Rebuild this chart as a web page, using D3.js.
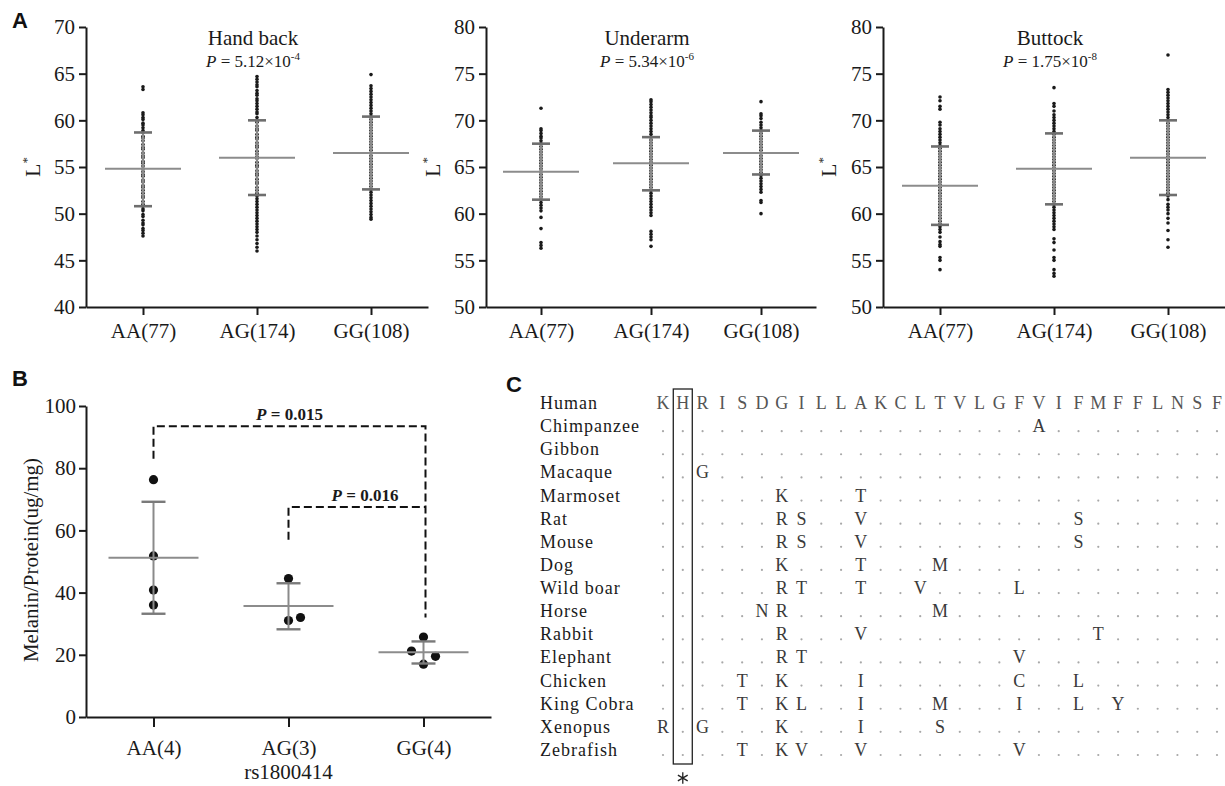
<!DOCTYPE html>
<html>
<head>
<meta charset="utf-8">
<script src="https://cdn.jsdelivr.net/npm/d3@7"></script>
<style>
  body { margin: 0; background: #fff; }
  svg { display: block; }
</style>
</head>
<body>
<div id="chart"></div>
<script>
// ---- panel A data ----
var groupsA = ["AA(77)", "AG(174)", "GG(108)"];
var sites = ["Hand back", "Underarm", "Buttock"];
var pMantissa = ["5.12", "5.34", "1.75"];
var pExponent = ["-4", "-6", "-8"];
var yDomainA = [[40, 70], [50, 80], [50, 80]];
var meanA = [[54.8, 56.0, 56.5], [64.5, 65.4, 66.5], [63.0, 64.8, 66.0]];
var sdHighA = [[58.7, 60.0, 60.4], [67.5, 68.2, 68.9], [67.2, 68.6, 70.0]];
var sdLowA = [[50.8, 52.0, 52.6], [61.5, 62.5, 64.2], [58.8, 61.0, 62.0]];

var handAA = [63.6, 63.3, 60.8, 60.6, 60.3, 60.1, 59.7, 59.5, 59.2, 58.9, 58.7, 58.3, 58.1, 57.8, 57.4, 57.1, 56.9, 56.5, 56.2, 56.0,
  55.6, 55.4, 55.1, 54.8, 54.5, 54.2, 54.0, 53.6, 53.4, 53.0, 52.8, 52.5, 52.2, 51.9, 51.7, 51.3, 51.0, 50.8, 50.5, 50.3,
  49.9, 49.7, 49.3, 49.0, 48.8, 48.4, 48.2, 47.9, 47.6];
var handAG = [64.7, 64.4, 64.1, 63.8, 63.6, 63.2, 62.9, 62.7, 62.3, 62.1, 61.8, 61.5, 61.2, 60.9, 60.7, 60.3, 60.0, 59.8, 59.4, 59.1,
  58.9, 58.5, 58.2, 58.0, 57.6, 57.3, 57.1, 56.7, 56.4, 56.1, 55.9, 55.5, 55.2, 55.0, 54.6, 54.3, 54.1, 53.7, 53.4, 53.2,
  52.8, 52.5, 52.2, 51.9, 51.6, 51.3, 51.0, 50.7, 50.4, 50.1, 49.8, 49.5, 49.2, 48.9, 48.6, 48.3, 48.0, 47.6, 47.2, 46.8, 46.4, 46.0];
var handGG = [64.9, 63.7, 63.4, 63.1, 62.8, 62.5, 62.2, 61.9, 61.6, 61.3, 61.0, 60.7, 60.4, 60.1, 59.8, 59.5, 59.2, 58.9, 58.6,
  58.3, 58.0, 57.7, 57.4, 57.1, 56.8, 56.5, 56.2, 55.9, 55.6, 55.3, 55.0, 54.7, 54.4, 54.1, 53.8, 53.5, 53.2, 52.9, 52.6,
  52.3, 52.0, 51.7, 51.4, 51.1, 50.8, 50.5, 50.2, 49.9, 49.6, 49.4];
var underAA = [71.3, 69.1, 68.9, 68.6, 68.3, 68.1, 67.8, 67.5, 67.2, 66.9, 66.6, 66.3, 66.0, 65.7, 65.4, 65.1, 64.8, 64.5,
  64.2, 63.9, 63.6, 63.3, 63.0, 62.7, 62.4, 62.1, 61.8, 61.5, 61.2, 60.9, 60.6, 60.3, 59.6, 58.4, 56.9, 56.6, 56.3];
var underAG = [72.2, 72.0, 71.7, 71.4, 71.1, 70.8, 70.5, 70.3, 70.0, 69.7, 69.4, 69.1, 68.8, 68.5, 68.2, 67.9, 67.6, 67.3,
  67.0, 66.7, 66.4, 66.1, 65.8, 65.5, 65.2, 64.9, 64.6, 64.3, 64.0, 63.7, 63.4, 63.1, 62.8, 62.5, 62.2, 61.9, 61.6, 61.3,
  61.0, 60.7, 60.4, 60.1, 59.8, 58.1, 57.8, 57.5, 57.2, 56.5];
var underGG = [72.0, 70.7, 70.5, 70.2, 69.8, 69.5, 69.2, 68.9, 68.6, 68.3, 68.0, 67.7, 67.4, 67.1, 66.8, 66.5, 66.2, 65.9,
  65.6, 65.3, 65.0, 64.7, 64.4, 64.1, 63.8, 63.5, 63.2, 62.9, 62.6, 62.3, 61.4, 61.2, 60.0];
var buttAA = [72.5, 72.1, 71.5, 71.2, 69.8, 69.5, 69.1, 68.8, 68.5, 68.2, 67.9, 67.6, 67.3, 67.0, 66.7, 66.4, 66.1, 65.8, 65.5,
  65.2, 64.9, 64.6, 64.3, 64.0, 63.7, 63.4, 63.1, 62.8, 62.5, 62.2, 61.9, 61.6, 61.3, 61.0, 60.7, 60.4, 60.1, 59.8, 59.5,
  59.2, 58.9, 58.6, 58.3, 58.0, 57.5, 57.0, 56.7, 56.5, 55.3, 55.0, 54.0];
var buttAG = [73.5, 71.8, 71.5, 71.0, 70.6, 70.3, 70.0, 69.7, 69.4, 69.1, 68.8, 68.5, 68.2, 67.9, 67.6, 67.3, 67.0, 66.7, 66.4,
  66.1, 65.8, 65.5, 65.2, 64.9, 64.6, 64.3, 64.0, 63.7, 63.4, 63.1, 62.8, 62.5, 62.2, 61.9, 61.6, 61.3, 61.0, 60.7, 60.4,
  60.1, 59.8, 59.5, 59.2, 58.9, 58.6, 58.3, 57.3, 56.9, 56.1, 55.3, 55.0, 54.0, 53.6, 53.3];
var buttGG = [77.0, 73.3, 73.0, 72.7, 72.4, 72.1, 71.8, 71.5, 71.2, 70.9, 70.6, 70.3, 70.0, 69.7, 69.4, 69.1, 68.8, 68.5, 68.2,
  67.9, 67.6, 67.3, 67.0, 66.7, 66.4, 66.1, 65.8, 65.5, 65.2, 64.9, 64.6, 64.3, 64.0, 63.7, 63.4, 63.1, 62.8, 62.5, 62.2,
  61.9, 61.5, 61.0, 60.7, 60.4, 60.0, 59.5, 59.0, 58.2, 57.2, 56.4];
var dotsA = [[handAA, handAG, handGG], [underAA, underAG, underGG], [buttAA, buttAG, buttGG]];

// ---- panel B data ----
var groupsB = ["AA(4)", "AG(3)", "GG(4)"];
var melanin = [[76.3, 51.8, 40.8, 36.0], [44.5, 31.0, 32.0], [25.7, 21.2, 19.5, 17.0]];
var dodgeB = [[0, 0, 0, 0], [0, 0, 1], [0, -1, 1, 0]];
var meanB = [51.2, 35.7, 20.8];
var sdHighB = [69.2, 43.0, 24.3];
var sdLowB = [33.2, 28.2, 17.2];
var bracketFrom = [0, 1];
var bracketTo = [2, 2];
var bracketStart = [83, 57];
var bracketTop = [93.5, 67.5];
var bracketEnd = [32, 67.5];
var bracketLabel = ["0.015", "0.016"];

// ---- panel C data ----
var species = ["Human", "Chimpanzee", "Gibbon", "Macaque", "Marmoset", "Rat", "Mouse", "Dog", "Wild boar",
  "Horse", "Rabbit", "Elephant", "Chicken", "King Cobra", "Xenopus", "Zebrafish"];
var humanSeq = "KHRISDGILLAKCLTVLGFVIFMFFLNSF".split("");
var substitutions = {
  "Chimpanzee": {19: "A"},
  "Gibbon": {},
  "Macaque": {2: "G"},
  "Marmoset": {6: "K", 10: "T"},
  "Rat": {6: "R", 7: "S", 10: "V", 21: "S"},
  "Mouse": {6: "R", 7: "S", 10: "V", 21: "S"},
  "Dog": {6: "K", 10: "T", 14: "M"},
  "Wild boar": {6: "R", 7: "T", 10: "T", 13: "V", 18: "L"},
  "Horse": {5: "N", 6: "R", 14: "M"},
  "Rabbit": {6: "R", 10: "V", 22: "T"},
  "Elephant": {6: "R", 7: "T", 18: "V"},
  "Chicken": {4: "T", 6: "K", 10: "I", 18: "C", 21: "L"},
  "King Cobra": {4: "T", 6: "K", 7: "L", 10: "I", 14: "M", 18: "I", 21: "L", 23: "Y"},
  "Xenopus": {0: "R", 2: "G", 6: "K", 10: "I", 14: "S"},
  "Zebrafish": {4: "T", 6: "K", 7: "V", 10: "V", 18: "V"}
};
var markedSite = 1;

var svg = d3.select("#chart").append("svg").attr("width", 1225).attr("height", 786);
svg.append("rect").attr("width", 1225).attr("height", 786).attr("fill", "#fff");

function serifText(sel, size) {
  return sel.append("text").style("font-family", "'Liberation Serif'").attr("font-size", size).attr("fill", "#1a1a1a");
}
function styleAxis(ax) {
  ax.attr("font-family", null).attr("font-size", null);
  ax.selectAll("path, line").attr("stroke", "#1a1a1a").attr("stroke-width", 2);
  ax.selectAll("text").style("font-family", "'Liberation Serif'").attr("font-size", 21).attr("fill", "#1a1a1a");
}

// panel letters
[["A", 12, 28], ["B", 12, 386], ["C", 506, 392]].forEach(function(p) {
  svg.append("text").style("font-family", "'Liberation Sans'").attr("font-weight", "bold").attr("font-size", 22)
    .attr("fill", "#111").attr("x", p[1]).attr("y", p[2]).text(p[0]);
});

// ---------- panel A ----------
var panelLeft = [86, 486, 883];
var panelRight = [428, 816, 1225];
var labelX = [40, 440, 836];

sites.forEach(function(site, si) {
  var g = svg.append("g");
  var x = d3.scalePoint().domain(groupsA).range([panelLeft[si], panelRight[si]]).padding(0.5);
  var y = d3.scaleLinear().domain(yDomainA[si]).range([307, 27]);

  g.append("g").attr("transform", "translate(0,307)")
    .call(d3.axisBottom(x).tickSize(8).tickSizeOuter(0).tickPadding(8)).call(styleAxis);
  g.append("g").attr("transform", "translate(" + panelLeft[si] + ",0)")
    .call(d3.axisLeft(y).tickValues(d3.range(yDomainA[si][0], yDomainA[si][1] + 1, 5)).tickSize(7).tickSizeOuter(0).tickPadding(4))
    .call(styleAxis);

  // L* label
  var lab = serifText(g, 22).attr("transform", "translate(" + labelX[si] + ",167) rotate(-90)")
    .attr("text-anchor", "middle");
  lab.append("tspan").text("L");
  lab.append("tspan").attr("font-size", 13).attr("dy", -9).text("*");

  // title + p value
  var cx = (x(groupsA[0]) + x(groupsA[2])) / 2 - 4;
  serifText(g, 21).attr("text-anchor", "middle").attr("x", cx).attr("y", 45).text(site);
  var pt = serifText(g, 17).attr("text-anchor", "middle").attr("x", cx).attr("y", 67);
  pt.append("tspan").attr("font-style", "italic").text("P");
  pt.append("tspan").text(" = " + pMantissa[si] + "×10");
  pt.append("tspan").attr("font-size", 11).attr("dy", -7).text(pExponent[si]);

  groupsA.forEach(function(grp, gi) {
    var gx = x(grp);
    g.append("g").selectAll("circle").data(dotsA[si][gi]).enter().append("circle")
      .attr("cx", gx).attr("cy", function(d) { return y(d); }).attr("r", 1.8).attr("fill", "#1a1a1a");
    // SD bar
    g.append("line").attr("x1", gx).attr("x2", gx)
      .attr("y1", y(sdLowA[si][gi])).attr("y2", y(sdHighA[si][gi]))
      .attr("stroke", "#8a8a8a").attr("stroke-width", 2);
    [sdLowA[si][gi], sdHighA[si][gi]].forEach(function(v) {
      g.append("line").attr("x1", gx - 9).attr("x2", gx + 9).attr("y1", y(v)).attr("y2", y(v))
        .attr("stroke", "#6e6e6e").attr("stroke-width", 2.6);
    });
    g.append("line").attr("x1", gx - 38).attr("x2", gx + 38)
      .attr("y1", y(meanA[si][gi])).attr("y2", y(meanA[si][gi]))
      .attr("stroke", "#8c8c8c").attr("stroke-width", 2);
  });
});

// ---------- panel B ----------
(function() {
  var g = svg.append("g");
  var x = d3.scalePoint().domain(groupsB).range([86, 491]).padding(0.5);
  var y = d3.scaleLinear().domain([0, 100]).range([717, 406]);

  g.append("g").attr("transform", "translate(0,717)")
    .call(d3.axisBottom(x).tickSize(10).tickSizeOuter(0).tickPadding(13)).call(styleAxis);
  g.append("g").attr("transform", "translate(86,0)")
    .call(d3.axisLeft(y).tickValues([0, 20, 40, 60, 80, 100]).tickSize(7).tickSizeOuter(0).tickPadding(3))
    .call(styleAxis);

  serifText(g, 21).attr("text-anchor", "middle").attr("x", x(groupsB[1])).attr("y", 779).text("rs1800414");
  serifText(g, 21).attr("text-anchor", "middle").attr("transform", "translate(38,560) rotate(-90)")
    .text("Melanin/Protein(ug/mg)");

  groupsB.forEach(function(grp, gi) {
    var gx = x(grp);
    g.append("g").selectAll("circle").data(melanin[gi]).enter().append("circle")
      .attr("cx", function(d, i) { return gx + dodgeB[gi][i] * 12; })
      .attr("cy", function(d) { return y(d); })
      .attr("r", 4.6).attr("fill", "#111");
    g.append("line").attr("x1", gx).attr("x2", gx).attr("y1", y(sdLowB[gi])).attr("y2", y(sdHighB[gi]))
      .attr("stroke", "#8a8a8a").attr("stroke-width", 2);
    [sdLowB[gi], sdHighB[gi]].forEach(function(v) {
      g.append("line").attr("x1", gx - 12).attr("x2", gx + 12).attr("y1", y(v)).attr("y2", y(v))
        .attr("stroke", "#7a7a7a").attr("stroke-width", 2.4);
    });
    g.append("line").attr("x1", gx - 45).attr("x2", gx + 45).attr("y1", y(meanB[gi])).attr("y2", y(meanB[gi]))
      .attr("stroke", "#8c8c8c").attr("stroke-width", 2);
  });

  bracketLabel.forEach(function(lbl, bi) {
    var x1 = x(groupsB[bracketFrom[bi]]), x2 = x(groupsB[bracketTo[bi]]) + 2;
    var path = d3.path();
    path.moveTo(x1, y(bracketStart[bi]));
    path.lineTo(x1, y(bracketTop[bi]));
    path.lineTo(x2, y(bracketTop[bi]));
    path.lineTo(x2, y(bracketEnd[bi]));
    g.append("path").attr("d", path.toString()).attr("fill", "none")
      .attr("stroke", "#111").attr("stroke-width", 2).attr("stroke-dasharray", "8,4");
    var t = serifText(g, 17).attr("font-weight", "bold").attr("text-anchor", "middle")
      .attr("x", (x1 + x2) / 2 + (bi === 1 ? 8 : 0)).attr("y", y(bracketTop[bi]) - 6);
    t.append("tspan").attr("font-style", "italic").text("P");
    t.append("tspan").text(" = " + lbl);
  });
})();

// ---------- panel C ----------
(function() {
  var g = svg.append("g");
  var col = d3.scalePoint().domain(d3.range(humanSeq.length)).range([663, 1217]);
  var row = d3.scalePoint().domain(species).range([403, 750]);

  species.forEach(function(sp) {
    serifText(g, 18).attr("letter-spacing", 1).attr("fill", "#1a1a1a")
      .attr("x", 540).attr("y", row(sp) + 6).text(sp);
  });

  species.forEach(function(sp, si) {
    humanSeq.forEach(function(res, ci) {
      var letter = si === 0 ? res : (substitutions[sp][ci] || null);
      if (letter) {
        serifText(g, 18).attr("text-anchor", "middle")
          .attr("x", col(ci)).attr("y", row(sp) + 6)
          .attr("fill", si === 0 ? "#555" : "#3a3a3a").text(letter);
      } else {
        g.append("circle").attr("cx", col(ci)).attr("cy", row(sp) + 5).attr("r", 1.1).attr("fill", "#a8a8a8");
      }
    });
  });

  var bx = col(markedSite);
  g.append("rect").attr("x", bx - 9.5).attr("y", 389).attr("width", 19).attr("height", 375)
    .attr("fill", "none").attr("stroke", "#222").attr("stroke-width", 1.3);
  g.append("path").attr("d", d3.symbol().type(d3.symbolAsterisk).size(90)())
    .attr("transform", "translate(" + bx + ",778)")
    .attr("fill", "none").attr("stroke", "#222").attr("stroke-width", 1.3);
})();
</script>
</body>
</html>
